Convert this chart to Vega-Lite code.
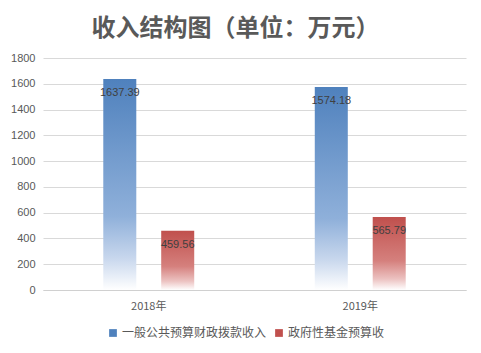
{
  "$schema": "https://vega.github.io/schema/vega-lite/v6.json",
  "autosize": {"type": "none"},
  "width": 423,
  "height": 232,
  "padding": {"left": 43, "top": 58, "right": 15, "bottom": 63},
  "background": "white",
  "title": {
    "text": "收入结构图（单位：万元）",
    "font": "Noto Sans CJK SC",
    "fontSize": 24,
    "fontWeight": "bold",
    "color": "#595959",
    "anchor": "middle",
    "dx": -19,
    "offset": 11
  },
  "data": {
    "values": [
      {"year": "2018年", "series": "一般公共预算财政拨款收入", "value": 1637.39},
      {"year": "2018年", "series": "政府性基金预算收", "value": 459.56},
      {"year": "2019年", "series": "一般公共预算财政拨款收入", "value": 1574.18},
      {"year": "2019年", "series": "政府性基金预算收", "value": 565.79}
    ]
  },
  "encoding": {
    "x": {
      "field": "year",
      "type": "nominal",
      "scale": {"paddingInner": 0.57, "paddingOuter": 0.285},
      "axis": {
        "title": null,
        "labelAngle": 0,
        "labelFont": "Noto Sans CJK SC",
        "labelFontSize": 11,
        "labelColor": "#595959",
        "labelPadding": 10,
        "ticks": false,
        "domain": true,
        "domainColor": "#d0d0d0"
      }
    },
    "xOffset": {
      "field": "series",
      "type": "nominal",
      "scale": {"domain": ["一般公共预算财政拨款收入", "政府性基金预算收"], "paddingInner": 0.43, "paddingOuter": 0}
    },
    "y": {
      "field": "value",
      "type": "quantitative",
      "scale": {"domain": [0, 1800], "nice": false},
      "axis": {
        "title": null,
        "values": [0, 200, 400, 600, 800, 1000, 1200, 1400, 1600, 1800],
        "format": "d",
        "labelFont": "Liberation Sans",
        "labelFontSize": 11,
        "labelColor": "#595959",
        "labelPadding": 8,
        "ticks": false,
        "domain": false,
        "gridColor": "#d9d9d9"
      }
    }
  },
  "layer": [
    {
      "mark": {"type": "bar"},
      "encoding": {
        "fill": {
          "condition": {
            "test": "datum.series === '一般公共预算财政拨款收入'",
            "value": {
              "gradient": "linear", "x1": 0, "y1": 0, "x2": 0, "y2": 1,
              "stops": [
                {"offset": 0, "color": "#4f81bd"},
                {"offset": 0.65, "color": "#8fb0da"},
                {"offset": 0.85, "color": "#c8d7ed"},
                {"offset": 1, "color": "#ffffff"}
              ]
            }
          },
          "value": {
            "gradient": "linear", "x1": 0, "y1": 0, "x2": 0, "y2": 1,
            "stops": [
              {"offset": 0, "color": "#c0504d"},
              {"offset": 0.6, "color": "#d5807d"},
              {"offset": 0.85, "color": "#ecc2c1"},
              {"offset": 1, "color": "#ffffff"}
            ]
          }
        }
      }
    },
    {
      "mark": {"type": "bar", "opacity": 0},
      "encoding": {
        "color": {
          "field": "series",
          "type": "nominal",
          "scale": {"domain": ["一般公共预算财政拨款收入", "政府性基金预算收"], "range": ["#4f81bd", "#c0504d"]},
          "legend": {
            "title": null,
            "orient": "none",
            "direction": "horizontal",
            "legendX": 64,
            "legendY": 269,
            "symbolType": "square",
            "symbolSize": 60,
            "symbolOpacity": 1,
            "symbolStrokeWidth": 0,
            "labelFont": "Noto Sans CJK SC",
            "labelFontSize": 12,
            "labelColor": "#595959",
            "labelOffset": 3,
            "columnPadding": 6,
            "labelLimit": 300
          }
        }
      }
    },
    {
      "mark": {"type": "text", "dy": 14, "font": "Liberation Sans", "fontSize": 11, "color": "#404040"},
      "encoding": {
        "text": {"field": "value", "type": "quantitative", "format": ".2f"}
      }
    }
  ],
  "config": {
    "view": {"stroke": null}
  }
}
